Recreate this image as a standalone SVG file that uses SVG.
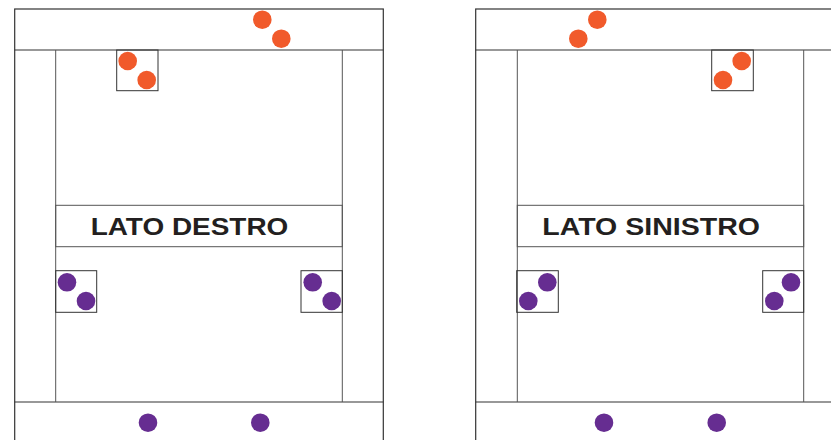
<svg xmlns="http://www.w3.org/2000/svg" width="831" height="440" viewBox="0 0 831 440">
<style>
.ln{fill:none;stroke:#333;stroke-width:1.2}
.inr{fill:none;stroke:#555;stroke-width:1}
.box{fill:none;stroke:#333;stroke-width:1}
.or{fill:#F15A2B}
.pu{fill:#662D91}
.lbl{font-family:"Liberation Sans",Arial,sans-serif;font-weight:bold;font-size:23px;fill:#231F20}
</style>
<rect width="831" height="440" fill="#fff"/>
<g id="panel-destro">
<rect class="ln" x="14.7" y="9" width="368.6" height="440"/>
<line class="ln" x1="14.7" y1="50" x2="383.3" y2="50"/>
<line class="ln" x1="14.7" y1="402" x2="383.3" y2="402"/>
<line class="inr" x1="55.7" y1="50" x2="55.7" y2="402"/>
<line class="inr" x1="342.3" y1="50" x2="342.3" y2="402"/>
<g id="label-destro">
<rect class="inr" x="55.7" y="205.3" width="286.6" height="41.4"/>
<text class="lbl" x="90.7" y="234.5" textLength="197.6" lengthAdjust="spacingAndGlyphs">LATO DESTRO</text>
</g>
<g id="destro-top-orange">
<circle class="or" cx="262.3" cy="19.7" r="9.3"/>
<circle class="or" cx="281.3" cy="38.7" r="9.3"/>
</g>
<g id="destro-box-orange">
<rect class="box" x="116.7" y="50" width="41.3" height="40.7"/>
<circle class="or" cx="127.7" cy="61" r="9.3"/>
<circle class="or" cx="146.7" cy="80" r="9.3"/>
</g>
<g id="destro-box-purple-left">
<rect class="box" x="55.7" y="270.7" width="41" height="41.6"/>
<circle class="pu" cx="67" cy="282.3" r="9.3"/>
<circle class="pu" cx="86" cy="301" r="9.3"/>
</g>
<g id="destro-box-purple-right">
<rect class="box" x="301" y="270.7" width="41.3" height="41.6"/>
<circle class="pu" cx="312.7" cy="282.3" r="9.3"/>
<circle class="pu" cx="331.7" cy="301" r="9.3"/>
</g>
<g id="destro-bottom-purple">
<circle class="pu" cx="148" cy="422.7" r="9.3"/>
<circle class="pu" cx="260.3" cy="422.7" r="9.3"/>
</g>
</g>
<g id="panel-sinistro">
<rect class="ln" x="475.7" y="9" width="368.6" height="440"/>
<line class="ln" x1="475.7" y1="50" x2="844.3" y2="50"/>
<line class="ln" x1="475.7" y1="402" x2="844.3" y2="402"/>
<line class="inr" x1="517.3" y1="50" x2="517.3" y2="402"/>
<line class="inr" x1="803.7" y1="50" x2="803.7" y2="402"/>
<g id="label-sinistro">
<rect class="inr" x="517.3" y="205.3" width="286.4" height="41.4"/>
<text class="lbl" x="542.3" y="234.5" textLength="217.7" lengthAdjust="spacingAndGlyphs">LATO SINISTRO</text>
</g>
<g id="sinistro-top-orange">
<circle class="or" cx="597.3" cy="19.7" r="9.3"/>
<circle class="or" cx="578.3" cy="38.7" r="9.3"/>
</g>
<g id="sinistro-box-orange">
<rect class="box" x="711.7" y="50" width="41.6" height="40.7"/>
<circle class="or" cx="741.7" cy="61" r="9.3"/>
<circle class="or" cx="723" cy="80" r="9.3"/>
</g>
<g id="sinistro-box-purple-left">
<rect class="box" x="516.7" y="270.7" width="41.6" height="41.6"/>
<circle class="pu" cx="547.3" cy="282.3" r="9.3"/>
<circle class="pu" cx="528.3" cy="301" r="9.3"/>
</g>
<g id="sinistro-box-purple-right">
<rect class="box" x="762.7" y="270.7" width="41" height="41.6"/>
<circle class="pu" cx="791" cy="282.3" r="9.3"/>
<circle class="pu" cx="774.3" cy="301" r="9.3"/>
</g>
<g id="sinistro-bottom-purple">
<circle class="pu" cx="604" cy="422.7" r="9.3"/>
<circle class="pu" cx="716.7" cy="422.7" r="9.3"/>
</g>
</g>
<g id="connectors"></g>
</svg>
